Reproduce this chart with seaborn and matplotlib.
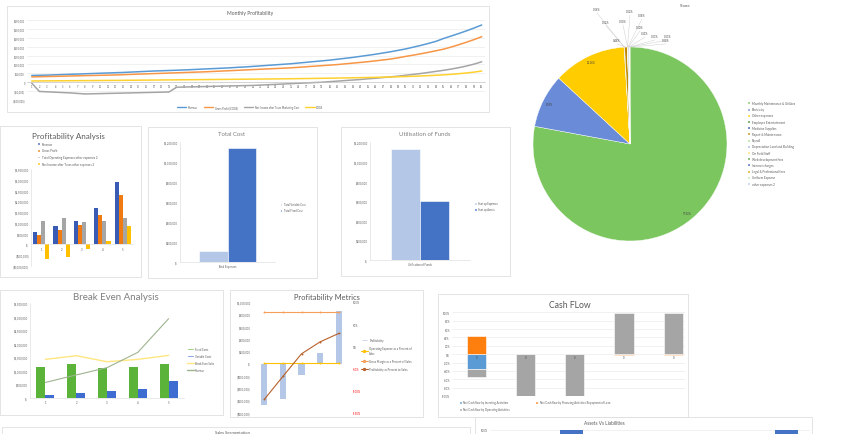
import numpy as np
import pandas as pd
import matplotlib
matplotlib.use("Agg")
import matplotlib.pyplot as plt
import seaborn as sns
from matplotlib.patches import Rectangle, Patch
from matplotlib.lines import Line2D
from matplotlib.ticker import FuncFormatter

# ---------------- data ----------------
months = list(range(1, 61))
# monthly values in $ thousands
mp_revenue = [38, 39, 40, 41.5, 43, 44.5, 46, 47.5, 49, 50.5,
              52, 53.5, 55, 57, 59, 61, 63, 64.5, 66, 67.5,
              69, 71, 73, 75, 77, 79, 81, 84, 86, 89,
              92, 95, 98, 101, 104, 108, 112, 116, 120, 124,
              129, 134, 139, 145, 151, 157, 164, 171, 179, 187,
              197, 207, 218, 230, 246, 260, 274, 289, 305, 322]
mp_gross = [30, 31, 32, 33, 34, 35, 36, 37, 38, 39,
            40, 41, 42.5, 44, 45.5, 47, 48.5, 50, 51.5, 53,
            54.5, 56, 57.5, 59, 61, 63, 65, 67, 69, 71,
            73, 75, 77, 79, 81, 84, 87, 90, 93, 96,
            99, 103, 107, 111, 115, 120, 125, 130, 137, 145,
            152, 160, 168, 177, 186, 198, 211, 225, 240, 256]
mp_net = [-5, -52, -54, -56, -58, -60, -63, -66, -65, -64,
          -63, -62, -61, -60, -59, -58, -57, -56, -55, -28,
          -27, -26, -25, -24, -23, -22, -21, -20, -19, -18,
          -16, -14, -12, -10, -8, -6, -4, -2, 0, 3,
          6, 9, 12, 15, 19, 22, 26, 30, 34, 39,
          44, 49, 55, 61, 67, 74, 82, 91, 102, 115]
mp_cogs = [7, 7.3, 7.6, 7.9, 8.2, 8.5, 8.8, 9.1, 9.4, 9.7,
           10, 10.3, 10.6, 11, 11.4, 11.8, 12.2, 12.6, 13, 13.4,
           13.8, 14.2, 14.6, 15, 15.4, 15.8, 16.2, 16.6, 17, 17.4,
           17.8, 18.2, 18.7, 19.2, 19.7, 20.2, 20.8, 21.4, 22, 22.7,
           23.4, 24.1, 24.9, 25.7, 26.5, 27.4, 28.4, 29.5, 30.7, 32,
           33.5, 35.2, 37, 39.2, 41.6, 44.5, 48, 52, 57, 63]
mp_series = ["Revenue", "Gross Profit (COGS)", "Net Income after Taxes Marketing Cost", "COGS"]

share_labels = ["Monthly Maintenance & Utilities", "Electricity", "Other expenses",
                "Employee Entertainment", "Medicine Supplies", "Repair & Maintenance",
                "Payroll", "Depreciation Land and Building", "On Field Staff",
                "Web development fees", "Internet charges", "Legal & Professional fees",
                "Uniform Expense", "other expenses 2"]
share_values = [77.92, 8.95, 12.16, 0.06, 0.02, 0.48, 0.00, 0.02, 0.08, 0.10, 0.13, 0.03, 0.03, 0.02]

years = ["1", "2", "3", "4", "5"]
pa_series = ["Revenue", "Gross Profit", "Total Operating Expenses other expenses 2",
             "Net Income after Taxes other expenses 2"]
pa_revenue = [565000, 840000, 1110000, 1675000, 2920000]
pa_gross = [432000, 648000, 880000, 1343000, 2315000]
pa_opex = [1096000, 1204000, 1034000, 1096000, 1235000]
pa_net = [-678000, -575000, -192000, 166000, 849000]

tc_series = ["Total Variable Cost", "Total Fixed Cost"]
tc_values = [113000, 1140000]

uf_series = ["Start up Expenses", "Start up Assets"]
uf_values = [1135000, 597000]

be_fixed = [1133000, 1244000, 1096000, 1133000, 1244000]
be_variable = [111000, 172000, 234000, 332000, 603000]
be_sales = [1416000, 1552000, 1330000, 1416000, 1564000]

pm_opex_pct = [1.94, 1.43, 0.93, 0.65, 0.42]      # plotted on the $ axis, as in the sheet
pm_gross_pct = [0.78, 0.78, 0.78, 0.78, 0.78]
pm_profit_pct = [-1.20, -0.68, -0.17, 0.10, 0.29]

cf_investing = [-0.35, 0.0, 0.0, 0.0, 0.0]
cf_financing = [0.44, 0.01, 0.01, -0.01, -0.01]
cf_operating = [-0.20, -0.99, -0.99, 0.99, 0.99]

al_categories = ["Assets", "Liabilities"]
al_values = [1.0, 1.0]

# ---------------- setup ----------------
sns.set_theme(style="white")
plt.rcParams['font.family'] = ['Lato', 'DejaVu Sans']

W, H = 850, 435
fig = plt.figure(figsize=(8.5, 4.35), dpi=100)
TXT = '#595959'
GRID = '#E6E6E6'
TICK = 2.0


def box(l, t, r, b):
    fig.add_artist(Rectangle((l / W, 1 - b / H), (r - l) / W, (b - t) / H,
                             transform=fig.transFigure, fc='white', ec='#D9D9D9',
                             lw=0.5, zorder=-5))


def axes_at(l, t, r, b):
    a = fig.add_axes([l / W, 1 - b / H, (r - l) / W, (b - t) / H])
    a.patch.set_alpha(0)
    return a


def ftext(x, y, s, **kw):
    fig.text(x / W, 1 - y / H, s, **kw)


def money(v, pos=None):
    if abs(v) < 1:
        return '$-'
    if v > 0:
        return '${:,.0f}'.format(v)
    return '(${:,.0f})'.format(-v)


def flegend(handles, labels, x, y, fs=2.2, **kw):
    opts = dict(loc='upper left', bbox_to_anchor=(x / W, 1 - y / H), fontsize=fs,
                frameon=False, borderaxespad=0, borderpad=0, handlelength=1.1,
                handleheight=1.1, handletextpad=0.5, labelspacing=0.7, labelcolor=TXT)
    opts.update(kw)
    fig.legend(handles, labels, **opts)


def clean(ax):
    ax.set_xlabel('')
    ax.set_ylabel('')
    ax.tick_params(length=0, labelsize=TICK, colors=TXT, pad=1.5)
    for s in ax.spines.values():
        s.set_visible(False)


def light_spines(ax):
    for s in ['left', 'bottom']:
        ax.spines[s].set_visible(True)
        ax.spines[s].set_color('#D9D9D9')
        ax.spines[s].set_linewidth(0.4)


# ---------------- panel boxes ----------------
box(7, 7, 489, 113)
box(0, 127, 141, 278)
box(148, 128, 317, 279)
box(341, 128, 510, 277)
box(0, 291, 223, 416)
box(230, 291, 423, 418)
box(438, 295, 688, 418)
box(2, 428, 470, 480)
box(475, 418, 812, 480)

# ---------------- Monthly Profitability ----------------
mp_colors = ['#5B9BD5', '#F79646', '#A5A5A5', '#FFD12E']
df_mp = pd.DataFrame({
    'month': months * 4,
    'value': [v * 1000 for v in mp_revenue + mp_gross + mp_net + mp_cogs],
    'series': sum([[s] * 60 for s in mp_series], []),
})
ax = axes_at(27, 21, 485, 101)
sns.lineplot(data=df_mp, x='month', y='value', hue='series', hue_order=mp_series,
             palette=mp_colors, lw=1.1, ax=ax, legend=False)
ax.set_xlim(0.38, 60.43)
ax.set_ylim(-100000, 350000)
ax.set_yticks(range(-100000, 350001, 50000))
ax.yaxis.set_major_formatter(FuncFormatter(lambda v, p: '0' if v == 0 else money(v)))
ax.set_xticks(months)
clean(ax)
ax.tick_params(labelsize=1.8)
ax.grid(axis='y', color=GRID, lw=0.4)
ax.spines['bottom'].set_visible(True)
ax.spines['bottom'].set_position(('data', 0))
ax.spines['bottom'].set_color('#BFBFBF')
ax.spines['bottom'].set_linewidth(0.4)
ftext(250, 14, 'Monthly Profitability', fontsize=3.6, color=TXT, ha='center', va='center')
flegend([Line2D([], [], color=c, lw=1.0) for c in mp_colors], mp_series, 250, 108,
        fs=1.9, loc='center', ncol=4, handlelength=3.5, columnspacing=2.5, labelspacing=0)

# ---------------- Share pie ----------------
share_colors = ['#7CC65F', '#6A8CD8', '#FFCC00', '#3F8F33', '#2F4FA0', '#C08A00',
                '#A8DC8F', '#9DB3EA', '#FFE066', '#4E9E3C', '#3A5CB8', '#D9A300',
                '#BFE5AA', '#B9C9F0']
small_label_px = [(597, 12), (606, 25), (617, 43), (623, 24), (630, 14), (642, 18),
                  (640, 30), (645, 36), (655, 39), (668, 39), (666, 43)]
ax = axes_at(533, 48, 727, 242)
wedges, _ = ax.pie(share_values, colors=share_colors, startangle=90, counterclock=False,
                   radius=1, wedgeprops=dict(edgecolor='white', linewidth=0.3))
ax.set_xlim(-1, 1)
ax.set_ylim(-1, 1)
for i, (w, v) in enumerate(zip(wedges, share_values)):
    th = np.deg2rad((w.theta1 + w.theta2) / 2)
    if v >= 5:
        ax.text(0.93 * np.cos(th), 0.93 * np.sin(th), '{:.2f}%'.format(v), fontsize=1.9,
                color='#404040', ha='center', va='center')
    else:
        px, py = small_label_px[i - 3]
        lx, ly = (px - 630) / 97, (145 - py) / 97
        ax.plot([np.cos(th), lx], [np.sin(th), ly - 0.02], color='#C8C8C8', lw=0.3,
                clip_on=False)
        ax.text(lx, ly, '{:.2f}%'.format(v), fontsize=1.9, color='#404040',
                ha='center', va='bottom')
ftext(685, 6, 'Share', fontsize=3.2, color=TXT, ha='center', va='center')
flegend([Patch(fc=c) for c in share_colors], share_labels, 747, 102, fs=2.2,
        labelspacing=0.72)

# ---------------- Profitability Analysis ----------------
pa_colors = ['#3A5BB3', '#F07B12', '#A5A5A5', '#FFC000']
df_pa = pd.DataFrame({
    'year': years * 4,
    'value': pa_revenue + pa_gross + pa_opex + pa_net,
    'metric': sum([[s] * 5 for s in pa_series], []),
})
ax = axes_at(31, 170, 133, 267)
sns.barplot(data=df_pa, x='year', y='value', hue='metric', hue_order=pa_series,
            palette=pa_colors, width=0.8, saturation=1, linewidth=0, ax=ax, legend=False)
ax.set_xlim(-0.5, 4.5)
ax.set_ylim(-1000000, 3500000)
ax.set_yticks(range(-1000000, 3500001, 500000))
ax.yaxis.set_major_formatter(FuncFormatter(money))
clean(ax)
light_spines(ax)
ax.spines['bottom'].set_position(('data', 0))
ftext(68, 136, 'Profitability Analysis', fontsize=5.8, color=TXT, ha='center', va='center')
flegend([Patch(fc=c) for c in pa_colors], pa_series, 37, 142.5, fs=2.1, labelspacing=0.95)

# ---------------- Total Cost ----------------
tc_colors = ['#B4C7E7', '#4472C4']
df_tc = pd.DataFrame({'cat': ['Total Expenses'] * 2, 'series': tc_series, 'value': tc_values})
ax = axes_at(180, 143.3, 275, 263.3)
sns.barplot(data=df_tc, x='cat', y='value', hue='series', hue_order=tc_series,
            palette=tc_colors, width=0.59, saturation=1, linewidth=0.4, edgecolor='white',
            ax=ax, legend=False)
ax.set_xlim(-0.5, 0.5)
ax.set_ylim(0, 1200000)
ax.set_yticks(range(0, 1200001, 200000))
ax.yaxis.set_major_formatter(FuncFormatter(money))
clean(ax)
light_spines(ax)
ftext(232, 135, 'Total Cost', fontsize=4.3, color='#808080', ha='center', va='center')
flegend([Patch(fc=c) for c in tc_colors], tc_series, 279.5, 203.5, fs=1.9)

# ---------------- Utilisation of Funds ----------------
df_uf = pd.DataFrame({'cat': ['Utilisation of Funds'] * 2, 'series': uf_series, 'value': uf_values})
ax = axes_at(370, 143.3, 470, 261)
sns.barplot(data=df_uf, x='cat', y='value', hue='series', hue_order=uf_series,
            palette=tc_colors, width=0.58, saturation=1, linewidth=0.4, edgecolor='white',
            ax=ax, legend=False)
ax.set_xlim(-0.5, 0.5)
ax.set_ylim(0, 1200000)
ax.set_yticks(range(0, 1200001, 200000))
ax.yaxis.set_major_formatter(FuncFormatter(money))
clean(ax)
light_spines(ax)
ftext(425, 135, 'Utilisation of Funds', fontsize=4.3, color='#808080', ha='center', va='center')
flegend([Patch(fc=c) for c in tc_colors], uf_series, 474, 202.5, fs=1.9)

# ---------------- Break Even Analysis ----------------
be_colors = ['#5BB33A', '#3F6CD1']
be_line_colors = ['#FFE680', '#9EB38F']
df_be = pd.DataFrame({
    'year': years * 2,
    'value': be_fixed + be_variable,
    'series': ['Fixed Costs'] * 5 + ['Variable Costs'] * 5,
})
ax = axes_at(30, 304, 184, 398.7)
sns.barplot(data=df_be, x='year', y='value', hue='series', palette=be_colors, width=0.58,
            saturation=1, linewidth=0, ax=ax, legend=False)
xi = np.arange(len(years))
sns.lineplot(x=xi, y=be_sales, color=be_line_colors[0], lw=1.0, ax=ax)
sns.lineplot(x=xi, y=pa_revenue, color=be_line_colors[1], lw=0.8, ax=ax)
ax.set_xlim(-0.5, 4.5)
ax.set_ylim(0, 3500000)
ax.set_yticks(range(0, 3500001, 500000))
ax.yaxis.set_major_formatter(FuncFormatter(money))
clean(ax)
light_spines(ax)
ftext(116, 298, 'Break Even Analysis', fontsize=7, color='#7F7F7F', ha='center', va='center')
flegend([Patch(fc=be_colors[0]), Patch(fc=be_colors[1]),
         Line2D([], [], color=be_line_colors[0], lw=1), Line2D([], [], color=be_line_colors[1], lw=1)],
        ['Fixed Costs', 'Variable Costs', 'Break Even Sales', 'Revenue'], 187, 348, fs=1.9,
        handlelength=2.5, handleheight=0.8, labelspacing=1.1)

# ---------------- Profitability Metrics ----------------
pm_bar = '#B4C7E7'
pm_colors = ['#FFC000', '#F5A05A', '#B8612A']
ax = axes_at(255, 303, 348, 413.7)
sns.barplot(x=years, y=pa_net, color=pm_bar, width=0.34, saturation=1, linewidth=0, ax=ax)
sns.lineplot(x=xi, y=pm_opex_pct, color=pm_colors[0], lw=0.8, marker='o', ms=1.4,
             markeredgewidth=0, ax=ax)
ax.set_xlim(-0.5, 4.5)
ax.set_ylim(-800000, 1000000)
ax.set_yticks(range(-800000, 1000001, 200000))
ax.yaxis.set_major_formatter(FuncFormatter(money))
clean(ax)
ax.tick_params(axis='y', pad=3)
ax.set_xticks([])
ax2 = ax.twinx()
sns.lineplot(x=xi, y=pm_gross_pct, color=pm_colors[1], lw=0.8, marker='o', ms=1.4,
             markeredgewidth=0, ax=ax2)
sns.lineplot(x=xi, y=pm_profit_pct, color=pm_colors[2], lw=0.8, marker='o', ms=1.4,
             markeredgewidth=0, ax=ax2)
ax2.set_ylim(-1.5, 1.0)
ax2.set_yticks([-1.5, -1.0, -0.5, 0, 0.5, 1.0])
ax2.set_yticklabels(['{:.0f}%'.format(v * 100) for v in [-1.5, -1.0, -0.5, 0, 0.5, 1.0]])
clean(ax2)
ax2.tick_params(axis='y', pad=3.5)
for lab, v in zip(ax2.get_yticklabels(), [-1.5, -1.0, -0.5, 0, 0.5, 1.0]):
    lab.set_color('#FF0000' if v < 0 else TXT)
ftext(327, 298, 'Profitability Metrics', fontsize=5.4, color=TXT, ha='center', va='center')
flegend([Patch(fc=pm_bar)] + [Line2D([], [], color=c, lw=0.8, marker='o', ms=1.4) for c in pm_colors],
        ['Profitability', 'Operating Expense as a Percent of\nSales', 'Gross Margin as a Percent of Sales',
         'Profitability as Percent to Sales'], 361, 339, fs=2.0, handlelength=2.5,
        handleheight=0.8, labelspacing=1.5)

# ---------------- Cash Flow ----------------
cf_names = ['Net Cash flow by Investing Activities',
            'Net Cash flow by Financing Activities Repayment of Loan',
            'Net Cash flow by Operating Activities']
cf_colors = ['#5B9BD5', '#FF7F0E', '#A5A5A5']
ax = axes_at(452, 313.3, 685, 397)
pos_base = np.zeros(5)
neg_base = np.zeros(5)
for vals, c in zip([cf_investing, cf_financing, cf_operating], cf_colors):
    vals = np.array(vals)
    base = np.where(vals >= 0, pos_base, neg_base)
    ax.bar(xi, vals, bottom=base, width=0.39, color=c, linewidth=0.4, edgecolor='white')
    pos_base = pos_base + np.where(vals >= 0, vals, 0)
    neg_base = neg_base + np.where(vals < 0, vals, 0)
for x in xi:
    ax.text(x, -0.06, '0', fontsize=1.8, color='#404040', ha='center', va='center')
ax.set_xlim(-0.5, 4.24)
ax.set_ylim(-1, 1)
ax.set_yticks(np.linspace(-1, 1, 11))
ax.yaxis.set_major_formatter(FuncFormatter(lambda v, p: '{:.0f}%'.format(v * 100)))
ax.set_xticks([])
clean(ax)
ax.set_axisbelow(True)
ax.grid(axis='y', color=GRID, lw=0.4)
ftext(570, 305, 'Cash FLow', fontsize=6.2, color=TXT, ha='center', va='center')
flegend([Patch(fc=cf_colors[0]), Patch(fc=cf_colors[2]), Patch(fc=cf_colors[1])],
        [cf_names[0], cf_names[2], cf_names[1]], 459, 401.5, fs=2.0, ncol=2,
        columnspacing=9.0, labelspacing=1.0)

# ---------------- bottom strip ----------------
ftext(232, 433, 'Sales Segmentation', fontsize=3.0, color=TXT, ha='center', va='center')
ftext(604, 424, 'Assets Vs Liabilities', fontsize=3.4, color=TXT, ha='center', va='center')
ax = axes_at(490, 431, 810, 540)
sns.barplot(x=al_categories, y=al_values, color='#4472C4', width=0.107, saturation=1,
            linewidth=0, ax=ax)
ax.set_xlim(-0.378, 1.107)
ax.set_ylim(0, 1)
ax.set_yticks([1.0])
ax.set_yticklabels(['100%'])
ax.set_xticks([])
clean(ax)
ax.grid(axis='y', color=GRID, lw=0.4)
ax.set_axisbelow(True)

fig.savefig('out.png', dpi=100)
